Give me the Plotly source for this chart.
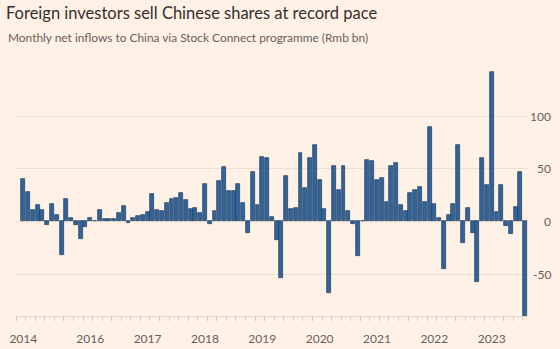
import plotly.graph_objects as go
import pandas as pd

# Monthly net northbound inflows via Stock Connect, Rmb bn (Nov 2014 - Aug 2023)
months = [p.strftime("%Y-%m") for p in pd.period_range("2014-11", "2023-08", freq="M")]
net_inflows = [
    40.5, 28.0,                                                               # 2014
    11.0, 16.0, 11.0, -3.0, 17.0, 6.0, -31.5, 21.0, 3.5, -3.0, -16.5, -5.0,  # 2015
    3.0, 0.0, 10.5, 2.5, 2.5, 2.5, 8.0, 14.6, -1.0, 3.5, 4.8, 6.4,           # 2016
    9.2, 25.6, 11.0, 9.8, 17.4, 21.6, 22.0, 27.0, 20.6, 11.7, 12.4, 8.4,     # 2017
    35.4, -2.8, 9.6, 38.5, 51.6, 28.5, 28.5, 35.4, 17.4, -10.8, 47.0, 15.8,  # 2018
    60.7, 60.4, 4.0, -18.0, -53.8, 43.2, 12.0, 13.0, 65.2, 32.0, 60.4, 73.0, # 2019
    38.9, 11.4, -68.0, 53.0, 30.0, 52.2, 10.0, -2.0, -32.6, 0.0, 57.9, 57.3, # 2020
    39.6, 41.0, 18.3, 52.2, 55.7, 15.2, 10.4, 26.6, 30.0, 32.6, 18.0, 89.5,  # 2021
    16.8, 3.5, -45.0, 6.3, 16.8, 73.0, -20.6, 12.6, -11.0, -57.6, 60.0, 34.8,# 2022
    141.7, 8.9, 35.0, -4.4, -12.3, 13.6, 46.8, -89.7,                        # 2023
]
assert len(months) == len(net_inflows)

# Year labels along the time axis and value labels on the right
year_tick_months = ["2014-11", "2016-01", "2017-01", "2018-01", "2019-01",
                    "2020-01", "2021-01", "2022-01", "2023-01"]
year_tick_labels = ["2014", "2016", "2017", "2018", "2019", "2020", "2021", "2022", "2023"]
value_ticks = [100, 50, 0, -50]

BG = "#fff1e5"
GRID = "#ecdfd3"
TEXT = "#33302e"
MUTED = "#66605c"
FONT = "Lato"

W, H = 560, 349
ML, MR, MT, MB = 16, 32, 60, 33
plot_w = W - ML - MR
plot_h = H - MT - MB

x_idx = list(range(len(months)))
tick_idx = [months.index(m) for m in year_tick_months]

fig = go.Figure()
fig.add_trace(go.Bar(
    x=x_idx,
    y=net_inflows,
    width=0.82,
    marker=dict(color="#32649a", line=dict(color="#1f3d60", width=0.7)),
    hovertext=months,
    hovertemplate="%{hovertext}: %{y} bn<extra></extra>",
))

# Right-hand value labels, right-aligned just inside the page edge
for v in value_ticks:
    fig.add_annotation(
        x=(553 - ML) / plot_w, xref="x domain", y=v, yref="y", showarrow=False,
        text=str(v), xanchor="right", yanchor="middle",
        font=dict(family=FONT, size=12, color=MUTED),
    )

fig.add_annotation(
    text="Monthly net inflows to China via Stock Connect programme (Rmb bn)",
    xref="paper", yref="paper", x=(6 - ML) / plot_w, y=(H - MB - 37) / plot_h,
    xanchor="left", yanchor="middle", showarrow=False,
    font=dict(family=FONT, size=11.9, color=MUTED),
)

fig.update_layout(
    width=W, height=H,
    margin=dict(l=ML, r=MR, t=MT, b=MB),
    paper_bgcolor=BG, plot_bgcolor=BG,
    showlegend=False,
    bargap=0,
    title=dict(
        text="Foreign investors sell Chinese shares at record pace",
        x=6 / W, xanchor="left", xref="container",
        y=1 - 13 / H, yanchor="middle", yref="container",
        font=dict(family=FONT, size=16.5, color=TEXT),
    ),
    font=dict(family=FONT, color=MUTED),
)

fig.update_xaxes(
    range=[-1.53, 105.6],
    automargin=False,
    tickmode="array", tickvals=tick_idx, ticktext=year_tick_labels,
    ticks="", ticklabelstandoff=12,
    tickfont=dict(family=FONT, size=12, color=MUTED),
    showgrid=False, zeroline=False,
    showline=True, linecolor="#e3d5c8", linewidth=1,
    minor=dict(ticks="outside", tick0=0.5, dtick=2, ticklen=4,
               tickcolor="#d9cbbe", showgrid=False),
    fixedrange=True,
)
fig.update_yaxes(
    range=[-89.7, 153.2],
    automargin=False,
    tickmode="array", tickvals=value_ticks,
    showticklabels=False, ticks="",
    showgrid=True, gridcolor=GRID, gridwidth=1,
    zeroline=False,
    fixedrange=True,
)

fig.write_html("out.html")
